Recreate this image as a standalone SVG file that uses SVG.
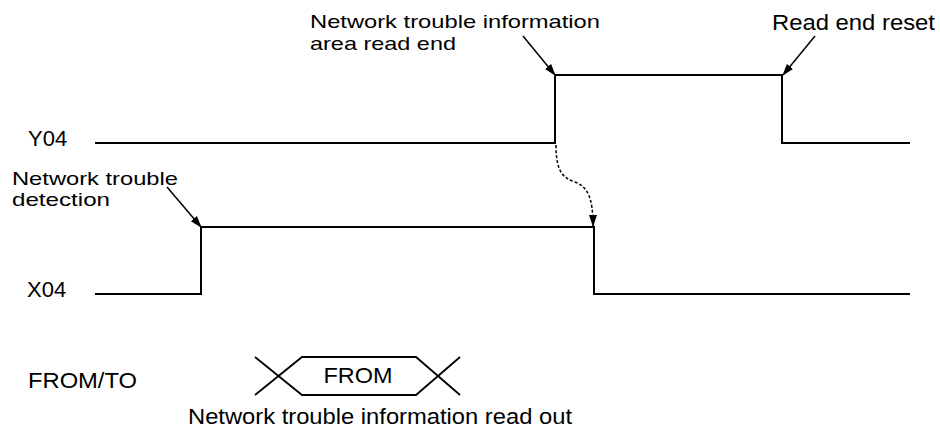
<svg xmlns="http://www.w3.org/2000/svg" width="940" height="432" viewBox="0 0 940 432">
<style>
text{font-family:"Liberation Sans",Arial,sans-serif;font-size:22px;fill:#000}
text.two{font-size:19px}
.sig{fill:none;stroke:#000;stroke-width:2}
.ann{fill:none;stroke:#000;stroke-width:1.5}
.dash{fill:none;stroke:#000;stroke-width:1.5;stroke-dasharray:3 2}
</style>
<defs>
<marker id="ah" markerWidth="12" markerHeight="10" refX="11" refY="4" orient="auto" markerUnits="userSpaceOnUse" viewBox="0 0 12 8">
<path d="M0,0 L12,4 L0,8 Z" fill="#000"/>
</marker>
</defs>
<rect width="940" height="432" fill="#fff"/>
<g id="Y04">
<text x="28" y="146">Y04</text>
<polyline class="sig" points="95,143 555,143 555,75 782,75 782,143 910,143"/>
</g>
<g id="X04">
<text x="27" y="297">X04</text>
<polyline class="sig" points="95,294 201,294 201,227 594,227 594,294 910,294"/>
</g>
<g id="label-read-end">
<text class="two" x="310" y="28" textLength="290" lengthAdjust="spacingAndGlyphs">Network trouble information</text>
<text class="two" x="310" y="50" textLength="146" lengthAdjust="spacingAndGlyphs">area read end</text>
</g>
<g id="label-reset">
<text x="772" y="30" textLength="163" lengthAdjust="spacingAndGlyphs">Read end reset</text>
</g>
<g id="label-detection">
<text class="two" x="12" y="185" textLength="166" lengthAdjust="spacingAndGlyphs">Network trouble</text>
<text class="two" x="12" y="206" textLength="98" lengthAdjust="spacingAndGlyphs">detection</text>
</g>
<g id="fromto">
<text x="28" y="388" textLength="109" lengthAdjust="spacingAndGlyphs">FROM/TO</text>
<polyline class="sig" style="stroke-width:1.8" points="255,357 302,395 416,395 460,357"/>
<polyline class="sig" style="stroke-width:1.8" points="255,395 302,357 416,357 460,395"/>
<text x="358" y="383" text-anchor="middle" textLength="69" lengthAdjust="spacingAndGlyphs">FROM</text>
<text x="188" y="424" textLength="384" lengthAdjust="spacingAndGlyphs">Network trouble information read out</text>
</g>
<g id="connectors">
<line class="ann" x1="523" y1="36" x2="555" y2="75" marker-end="url(#ah)"/>
<line class="ann" x1="815" y1="36" x2="783" y2="75" marker-end="url(#ah)"/>
<line class="ann" x1="167" y1="187" x2="201" y2="227" marker-end="url(#ah)"/>
<path class="dash" d="M556,145 C556,172 563,178 575,182 C588,187 593,198 593,226" marker-end="url(#ah)"/>
</g>
</svg>
